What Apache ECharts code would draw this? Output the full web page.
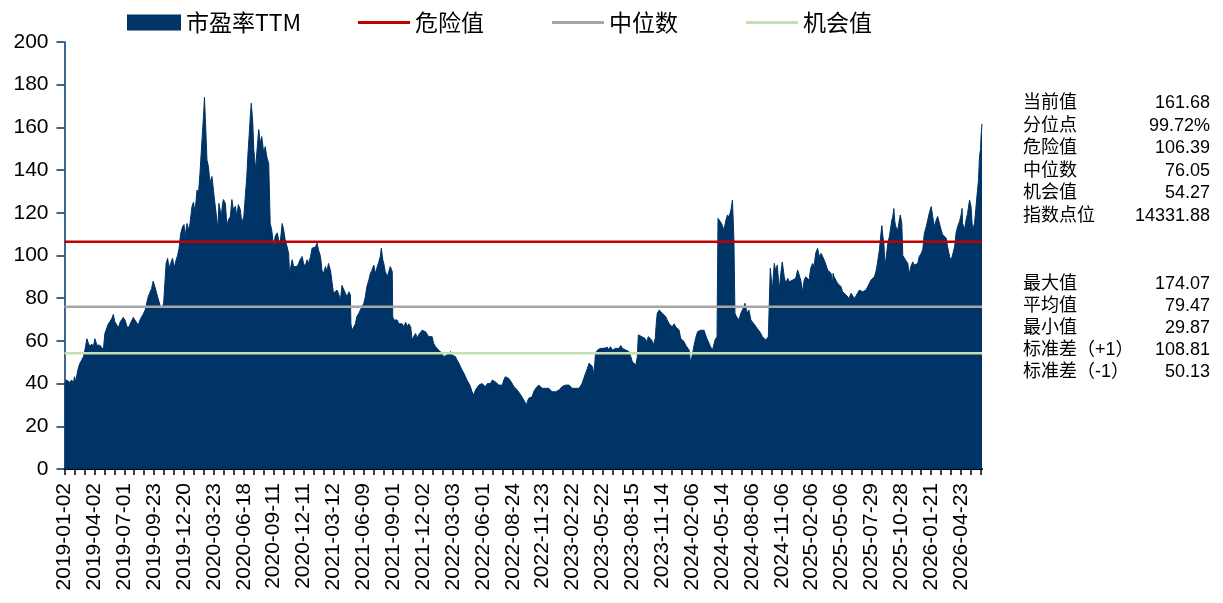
<!DOCTYPE html>
<html><head><meta charset="utf-8">
<script src="https://cdn.jsdelivr.net/npm/echarts@6/dist/echarts.min.js"></script>
<style>html,body{margin:0;padding:0;background:#fff}#c{width:1223px;height:603px}</style>
</head><body><div id="c"></div>
<script>
// x-axis labels: one every 60 trading days
const tickLabels = ['2019-01-02','2019-04-02','2019-07-01','2019-09-23','2019-12-20','2020-03-23','2020-06-18','2020-09-11','2020-12-11','2021-03-12','2021-06-09','2021-09-01','2021-12-02','2022-03-03','2022-06-01','2022-08-24','2022-11-23','2023-02-22','2023-05-22','2023-08-15','2023-11-14','2024-02-06','2024-05-14','2024-08-06','2024-11-06','2025-02-06','2025-05-06','2025-07-29','2025-10-28','2026-01-21','2026-04-23'];
const labelStep = 60;   // trading days between date labels
const tickStep = 20;    // trading days between tick marks
const lastDay = 1842;   // index of last trading day

// [trading-day index, PE TTM]
const peTTM = [
[0,39.5],[4,41.7],[11,40.5],[14,41.7],[18,40.5],[20,43.2],[22,40.8],[28,47.6],[31,49.5],[35,50],[38,52.6],[41,55.7],[45,61],[48,58.9],[51,57.5],[55,58.5],[58,57.3],[61,61],[65,58],[68,57.5],[71,58],[75,56.8],[78,55.7],[81,63.5],[85,64],[88,68],[91,69],[95,70.5],[98,72.4],[101,69],[105,67.5],[108,66],[112,69],[115,70],[118,71],[122,69.5],[125,67],[128,66],[132,68],[135,68.5],[138,71],[142,71.5],[145,68.5],[148,67.5],[152,70],[155,71.4],[158,72.5],[162,74.5],[165,77.6],[168,80.7],[172,83],[175,84.6],[178,88],[182,85],[185,82.3],[189,79],[192,76.5],[195,75],[199,77.6],[202,77],[204,96.3],[207,98.7],[210,94],[213,96.3],[217,98.7],[220,94],[223,97],[227,100],[230,103.4],[233,110],[237,113.5],[240,114.5],[242,109],[246,115],[249,112],[252,115],[256,123],[259,125],[262,120],[266,130.7],[269,129],
[272,138.5],[276,154],[279,165],[281,174.07],[284,157],[286,144.7],[289,141.7],[292,134],[296,137],[299,130.7],[302,124.4],[306,116.6],[308,112],[310,124.4],[315,118.3],[317,123.8],[319,126.2],[323,124.4],[326,114],[329,116.6],[333,118.3],[336,126.2],[339,121.5],[343,123],[346,118.3],[349,123.8],[353,121.5],[356,115],[360,118.3],[363,127.6],[366,137],[368,146.4],[371,157.3],[373,165],[375,171.3],[378,162],[380,149.6],[382,144.7],[384,140],[386,148],[390,159],[393,152.5],[396,155.7],[400,148],[403,151],[406,146.4],[410,143],[413,115],[416,112],[420,104],[423,109],[427,110.6],[430,107.4],[433,105.8],[437,115],[440,112],[443,107.4],[447,104],[450,101],[452,90],[453,93],[457,98],[460,94.8],[463,94],[467,94.8],[470,96.3],[473,98],[477,99.5],[480,96.3],[483,94.8],[487,98],[490,96.3],[494,99.5],[497,103.4],[500,102.6],[504,104],[507,105.8],[510,102.6],[514,99.5],[517,93],[520,91.6],[524,94.8],[527,92.5],[530,96.3],[534,93],[537,87.7],[540,82.3],
[544,82.6],[547,83.8],[550,82.3],[554,79],[557,86],[560,85.4],[564,82.3],[567,80.7],[571,83],[574,81.5],[575,68],[577,65],[581,66.6],[584,68],[587,71.4],[591,73],[594,74.5],[597,76],[601,77.6],[604,80.7],[607,85.4],[611,88.5],[614,91.6],[617,93],[621,95.5],[624,91.6],[628,94.8],[631,97],[634,99.5],[636,103.4],[639,98],[641,96.3],[644,92.5],[648,90],[651,92.5],[654,94.8],[658,92.5],[659,71.4],[661,69.8],[664,70.5],[668,69.8],[671,68],[674,68.7],[678,68],[681,66.6],[685,68.7],[688,66.6],[691,68],[695,66.6],[698,60.4],[701,62],[705,63.5],[708,61.2],[711,62.8],[715,62],[718,65],[721,65.8],[725,64.3],[728,64.3],[731,62],[735,61.2],[738,62],[741,58.9],[745,57.3],[748,57.3],[751,55.7],[755,56.5],[758,54.2],[761,52.6],[765,51.8],[768,53.4],[772,54.2],[775,55],[778,53.4],[782,52.6],[785,52.6],[788,51],[792,49.5],[795,48],[798,46.4],[802,44.8],[805,43.2],[808,41.7],[812,40],[815,38.6],
[818,36.2],[822,34.7],[825,37],[828,37.8],[832,39.3],[835,38.6],[838,40],[842,39.3],[845,38.6],[849,40],[852,40],[855,40],[859,41.7],[862,41.7],[865,40.8],[869,40],[872,39.3],[875,40],[879,39.3],[882,41.7],[885,43.2],[889,44],[892,42.4],[895,41.7],[899,40],[902,38.6],[905,37.8],[909,37],[912,36.2],[916,34.7],[919,33.9],[922,32.3],[926,31.5],[928,29.87],[929,31.5],[932,33.1],[936,33.9],[939,33.9],[942,36.2],[946,37.8],[949,38.6],[952,39.3],[956,38.6],[959,37.8],[962,37.8],[966,37.8],[969,38.6],[972,37.8],[976,37.8],[979,36.2],[983,35.4],[986,36.2],[989,37],[993,37],[996,37.8],[999,38.6],[1003,38.6],[1006,39.3],[1009,39.3],[1013,39.3],[1016,38.6],[1019,37.8],[1023,38.6],[1026,37.8],[1029,37],[1033,37.8],[1036,38.6],[1039,40],[1043,40.8],[1046,44.8],[1050,47.2],[1053,49.5],[1056,49.5],[1060,48],[1063,44],[1066,54.2],[1070,55.7],[1073,55.7],[1076,56.5],[1080,56.5],
[1083,56.5],[1086,56.5],[1090,57],[1093,55.7],[1096,57.3],[1100,55.7],[1103,55.7],[1107,56.5],[1110,57.3],[1113,56.5],[1117,57.8],[1120,56.5],[1123,56.5],[1127,55.7],[1130,55.7],[1133,55],[1137,52.6],[1140,50.2],[1143,49.5],[1147,48.7],[1150,52.6],[1152,62.8],[1155,63.5],[1159,62],[1162,61.2],[1165,61.2],[1169,59.6],[1172,62],[1176,62],[1179,60.4],[1182,58],[1186,61.2],[1188,68],[1190,72.9],[1194,74.5],[1197,74.5],[1200,72.9],[1204,72.1],[1207,71.4],[1210,69.8],[1214,68],[1217,68.7],[1220,66.6],[1224,68],[1227,66.6],[1230,67.3],[1234,65],[1237,61.2],[1241,60.4],[1244,59.6],[1247,58],[1251,58.9],[1254,55.7],[1257,49.5],[1261,54.2],[1264,58],[1267,61.2],[1271,64.3],[1274,63.5],[1277,65],[1281,64.3],[1284,65],[1287,62.8],[1291,60.4],[1294,58.9],[1297,57.3],[1301,55.7],[1304,56.5],[1306,60.4],[1310,62],[1312,117.4],[1314,118],[1316,116.6],[1319,115],[1322,115.8],[1324,112],[1328,116.6],[1331,119],[1334,118],[1338,121.3],[1341,126],[1343,126.8],[1344,107],[1346,73],[1349,71.4],[1351,70.5],[1354,69.8],
[1358,73],[1361,74.5],[1364,76],[1366,77.6],[1369,74.5],[1371,73],[1374,74.5],[1378,69.8],[1381,69],[1384,68],[1388,68],[1391,65.8],[1395,65],[1398,63.5],[1401,62],[1405,61.2],[1408,60.4],[1411,59.6],[1413,62],[1417,94],[1418,93.2],[1421,83.8],[1425,96.3],[1428,92.5],[1431,95.5],[1435,83.8],[1438,91.6],[1441,97],[1445,90],[1448,87],[1452,89.3],[1455,87.7],[1458,88.5],[1462,88.5],[1465,87.7],[1468,89.3],[1472,93.2],[1475,92.5],[1478,88.5],[1482,83],[1485,88.5],[1488,90],[1492,90],[1495,88.5],[1498,94],[1502,96.3],[1505,94.8],[1508,101],[1512,103.4],[1515,99.5],[1519,101],[1522,99.5],[1525,98],[1529,95.5],[1532,93.2],[1535,92.5],[1539,91.6],[1542,87],[1543,91.6],[1545,90],[1549,89.3],[1552,87],[1555,87.7],[1559,85.4],[1562,83],[1565,82.3],[1569,81.5],[1572,80.7],[1575,79.9],[1579,82.3],[1582,81.5],[1586,79.9],[1589,80.7],[1592,82.3],[1596,83.8],[1599,83],[1602,83],[1606,83.8],[1609,83.8],[1612,84.6],[1616,87],[1619,88.5],[1622,89.3],[1626,90],
[1629,92.4],[1632,96.3],[1636,102.6],[1639,110],[1641,114],[1643,108.9],[1645,105.8],[1647,96.3],[1649,98],[1653,105.8],[1656,108.9],[1658,112],[1661,116.6],[1663,118.3],[1665,122],[1667,115.8],[1669,113.5],[1673,112],[1676,116.6],[1678,119],[1681,115],[1683,100],[1686,99.5],[1689,97.7],[1693,96.3],[1696,91],[1699,94.8],[1703,97],[1706,95.5],[1710,96.3],[1713,96.3],[1716,99.5],[1720,101],[1723,102.6],[1726,110],[1730,113.5],[1733,116.6],[1736,119.7],[1740,122.9],[1743,118.3],[1746,113.5],[1750,116.6],[1753,118.3],[1756,119],[1760,112],[1763,109.8],[1766,108.9],[1770,108.2],[1773,104],[1777,99.5],[1780,97.7],[1783,97],[1787,104],[1790,110.6],[1793,113.5],[1797,116],[1800,119],[1802,122],[1803,115],[1807,112.4],[1810,116.6],[1813,119.7],[1817,126],[1820,122.9],[1823,112],[1827,115],[1830,115.8],[1833,130.7],[1835,135.4],[1837,146.4],[1839,149.6],[1840,155.7],[1842,161.68]
];

const dangerValue = 106.39;
const medianValue = 76.05;
const chanceValue = 54.27;

const statLabelsTop = ['当前值','分位点','危险值','中位数','机会值','指数点位'];
const statValuesTop = ['161.68','99.72%','106.39','76.05','54.27','14331.88'];
const statLabelsBottom = ['最大值','平均值','最小值','标准差（+1）','标准差（-1）'];
const statValuesBottom = ['174.07','79.47','29.87','108.81','50.13'];

const navy = '#003366';
const red = '#C00000';
const gray = '#A6A6A6';
const green = '#C5E0B4';
const latin = '"Liberation Sans", Arial, "Noto Sans CJK SC", sans-serif';
const cjk = '"Noto Sans CJK SC", sans-serif';

const labelValues = tickLabels.map((_, i) => i * labelStep);
const tickValues = [];
for (let v = 0; v <= lastDay; v += tickStep) tickValues.push(v);

function flat(v) { return [[0, v], [lastDay, v]]; }

const graphics = [];
function addStats(labels, values, y0, step) {
  labels.forEach((t, i) => {
    graphics.push({ type: 'text', style: { x: 1023, y: y0 + i * step, text: t, font: '18px ' + latin, fill: '#000', textAlign: 'left', textVerticalAlign: 'middle' } });
    graphics.push({ type: 'text', style: { x: 1210, y: y0 + i * step, text: values[i], font: '18px ' + latin, fill: '#000', textAlign: 'right', textVerticalAlign: 'middle' } });
  });
}
addStats(statLabelsTop, statValuesTop, 103.5, 22.5);
addStats(statLabelsBottom, statValuesBottom, 284, 22);

const chart = echarts.init(document.getElementById('c'), null, { renderer: 'canvas' });
chart.setOption({
  animation: false,
  backgroundColor: '#fff',
  grid: { left: 64.5, right: 241, top: 42, bottom: 134, containLabel: false },
  legend: [
    { data: [{ name: '市盈率TTM', icon: 'rect' }], left: 122, top: 6, itemWidth: 54, itemHeight: 16, selectedMode: false,
      textStyle: { fontSize: 23, color: '#000', fontFamily: cjk } },
    { data: ['危险值', '中位数', '机会值'], icon: 'rect', left: 353, top: 6, itemWidth: 52, itemHeight: 3, itemGap: 68, selectedMode: false,
      textStyle: { fontSize: 23, color: '#000', fontFamily: cjk } }
  ],
  xAxis: {
    type: 'value', min: 0, max: lastDay,
    axisLine: { show: true, lineStyle: { color: '#000', width: 2 } },
    axisTick: { show: true, customValues: tickValues, length: 6, lineStyle: { color: '#000', width: 1.5 } },
    axisLabel: { customValues: labelValues, rotate: 90, margin: 14, fontSize: 21, color: '#000', fontFamily: latin,
      formatter: v => tickLabels[Math.round(v / labelStep)] || '' },
    splitLine: { show: false }
  },
  yAxis: {
    type: 'value', min: 0, max: 200, interval: 20,
    axisLine: { show: true, lineStyle: { color: navy, width: 1.5 } },
    axisTick: { show: true, length: 8, lineStyle: { color: navy, width: 1.5 } },
    axisLabel: { fontSize: 21, color: '#000', margin: 16, fontFamily: latin },
    splitLine: { show: false }
  },
  series: [
    { name: '市盈率TTM', type: 'line', data: peTTM, showSymbol: false, symbol: 'none',
      itemStyle: { color: navy }, lineStyle: { color: navy, width: 1 },
      areaStyle: { color: navy, opacity: 1 } },
    { name: '危险值', type: 'line', data: flat(dangerValue), symbol: 'none', itemStyle: { color: red }, lineStyle: { color: red, width: 2.5 } },
    { name: '中位数', type: 'line', data: flat(medianValue), symbol: 'none', itemStyle: { color: gray }, lineStyle: { color: gray, width: 2.5 } },
    { name: '机会值', type: 'line', data: flat(chanceValue), symbol: 'none', itemStyle: { color: green }, lineStyle: { color: green, width: 2.5 } }
  ],
  graphic: graphics
});
</script>
</body></html>
